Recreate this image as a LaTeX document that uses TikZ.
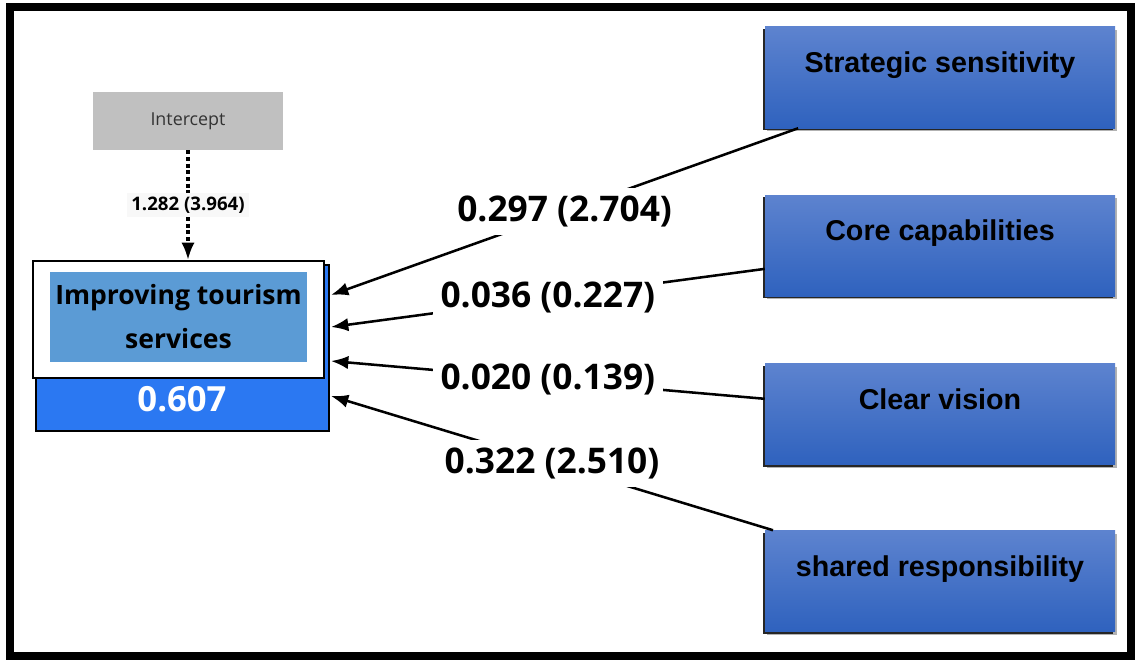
\documentclass[tikz,border=0pt]{standalone}
\usepackage{fontspec}
\setmainfont{Open Sans}
\newfontfamily\boxfont{Liberation Sans}
\usetikzlibrary{positioning,calc,arrows.meta,shadows}
\definecolor{intgray}{HTML}{C0C0C0}
\definecolor{lblgray}{HTML}{F8F8F8}
\definecolor{tgtblue}{HTML}{5B9BD5}
\definecolor{valblue}{HTML}{2B78F2}
\definecolor{cstop}{HTML}{5D83CF}
\definecolor{csbot}{HTML}{2F62BE}

\begin{document}
\begin{tikzpicture}[x=0.75pt,y=-0.75pt,>={Latex[length=13pt,width=10pt]},
  cst/.style={rectangle,minimum width=262.5pt,minimum height=75.75pt,top color=cstop,bottom color=csbot,
    font=\boxfont\bfseries\fontsize{21.5}{25}\selectfont,text height=16pt,text depth=23pt,
    drop shadow={shadow xshift=1.5pt,shadow yshift=-2.5pt,opacity=.3,fill=black},
    drop shadow={shadow xshift=-1.5pt,shadow yshift=-1.5pt,opacity=1,fill=black!85}},
  conn/.style={line width=1.9pt},
  elbl/.style={fill=white,inner sep=6pt,font=\bfseries\fontsize{26.5}{30}\selectfont}]

\useasboundingbox (0,0) rectangle (1135,660);
\draw[line width=6pt] (10,7) rectangle (1131,656);

% ---- intercept
\node[fill=intgray,minimum width=142.5pt,minimum height=43.5pt,text=black!80,font=\fontsize{13.4}{16}\selectfont] (int) at (188,121) {Intercept};

% ---- dependent construct
\node[draw=black,line width=1.6pt,fill=valblue,minimum width=219.75pt,minimum height=124.5pt] (val) at (182.5,348) {};
\node[draw=black,line width=1.6pt,fill=white,minimum width=218.25pt,minimum height=87.75pt] (tgt) at (178.5,319.5) {};
\node[fill=tgtblue,minimum width=192.75pt,minimum height=67.5pt,align=center,font=\bfseries\fontsize{19.9}{33}\selectfont] (tin) at (178.5,317) {Improving tourism\\services};
\node[text=white,font=\bfseries\fontsize{26}{30}\selectfont] (r2) at (182,399) {0.607};

\draw[->,line width=2.4pt,dash pattern=on 3pt off 2pt] (int.south) -- node[fill=lblgray,inner sep=3pt,font=\bfseries\fontsize{14}{16}\selectfont]{1.282 (3.964)} (int.south |- tgt.north);

% ---- predictors
\node[cst] (ss) at (940,77.5) {Strategic sensitivity};
\node[cst] (cc) at (940,245.5) {Core capabilities};
\node[cst] (cv) at (940,414) {Clear vision};
\node[cst] (sr) at (940,581) {shared responsibility};

\coordinate (e1) at (331,295);
\coordinate (e2) at (331,327);
\coordinate (e3) at (331,361);
\coordinate (e4) at (331,396);

\draw[->,conn] (ss) -- node[elbl]{0.297 (2.704)} (e1);
\draw[->,conn] (cc) -- node[elbl]{0.036 (0.227)} (e2);
\draw[->,conn] (cv) -- node[elbl]{0.020 (0.139)} (e3);
\draw[->,conn] (sr) -- node[elbl]{0.322 (2.510)} (e4);
\end{tikzpicture}
\end{document}
